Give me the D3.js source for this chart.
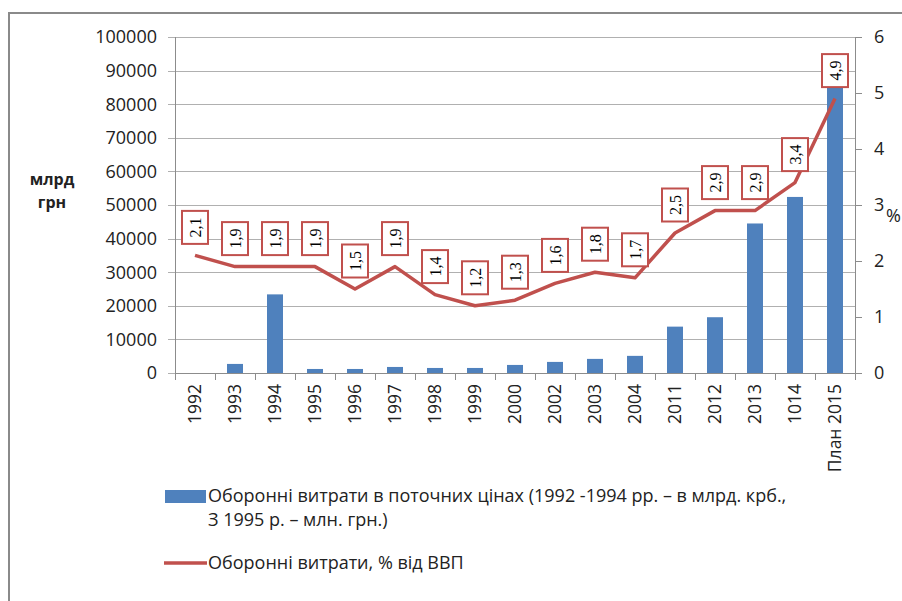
<!DOCTYPE html>
<html>
<head>
<meta charset="utf-8">
<script src="https://cdn.jsdelivr.net/npm/d3@7"></script>
<style>
  body { margin: 0; background: #fff; }
  svg { display: block; font-family: "Open Sans", sans-serif; }
</style>
</head>
<body>
<div class="chart"></div>
<script>
// chart data
var categories = ["1992", "1993", "1994", "1995", "1996", "1997", "1998", "1999", "2000",
  "2002", "2003", "2004", "2011", "2012", "2013", "1014", "План 2015"];
var spending = [0, 2700, 23400, 1200, 1200, 1800, 1500, 1500, 2400,
  3300, 4200, 5100, 13800, 16600, 44500, 52400, 85600];
var gdpShare = [2.1, 1.9, 1.9, 1.9, 1.5, 1.9, 1.4, 1.2, 1.3,
  1.6, 1.8, 1.7, 2.5, 2.9, 2.9, 3.4, 4.9];
var leftTicks = [0, 10000, 20000, 30000, 40000, 50000, 60000, 70000, 80000, 90000, 100000];
var rightTicks = [0, 1, 2, 3, 4, 5, 6];
var legendLabels = [
  ["Оборонні витрати в поточних цінах (1992 -1994 рр. – в млрд. крб.,", "З 1995 р. – млн. грн.)"],
  ["Оборонні витрати, % від ВВП"]
];

var store = {
  width: 902, height: 601,
  plot: { left: 175, right: 855, top: 37, bottom: 373 },
  blue: "#4f81bd",
  red: "#c0504d",
  grid: "#b0b0b0",
  axis: "#8c8c8c"
};

var svg = d3.select(".chart").append("svg")
  .attr("width", store.width)
  .attr("height", store.height);

// outer frame (top and left edges only are visible)
svg.append("path")
  .attr("d", "M9," + store.height + "V13H" + store.width)
  .attr("fill", "none")
  .attr("stroke", "#8a8a8a")
  .attr("stroke-width", 2);

var x = d3.scaleBand()
  .domain(categories)
  .range([store.plot.left, store.plot.right])
  .paddingInner(0.6)
  .paddingOuter(0.3);
var y = d3.scaleLinear().domain([0, 100000]).range([store.plot.bottom, store.plot.top]);
var y2 = d3.scaleLinear().domain([0, 6]).range([store.plot.bottom, store.plot.top]);

var step = x.step();
var bw = x.bandwidth();
var boundary = function(c) { return x(c) - step * x.paddingInner() / 2; };

// gridlines + left ticks
svg.append("g").selectAll("line")
  .data(leftTicks)
  .join("line")
  .attr("x1", store.plot.left - 7)
  .attr("x2", store.plot.right)
  .attr("y1", function(d) { return Math.round(y(d)) + 0.5; })
  .attr("y2", function(d) { return Math.round(y(d)) + 0.5; })
  .attr("stroke", store.grid);

svg.append("g").selectAll("text")
  .data(leftTicks)
  .join("text")
  .attr("x", 157)
  .attr("y", function(d) { return y(d); })
  .attr("dy", "0.36em")
  .attr("text-anchor", "end")
  .attr("font-size", 18)
  .attr("fill", "#222")
  .text(function(d) { return d; });

// left axis line
svg.append("line")
  .attr("x1", store.plot.left + 0.5).attr("x2", store.plot.left + 0.5)
  .attr("y1", store.plot.top).attr("y2", store.plot.bottom + 7)
  .attr("stroke", store.axis);

// right axis
svg.append("line")
  .attr("x1", store.plot.right + 0.5).attr("x2", store.plot.right + 0.5)
  .attr("y1", store.plot.top).attr("y2", store.plot.bottom + 7)
  .attr("stroke", store.axis);

svg.append("g").selectAll("line")
  .data(rightTicks)
  .join("line")
  .attr("x1", store.plot.right)
  .attr("x2", store.plot.right + 7)
  .attr("y1", function(d) { return Math.round(y2(d)) + 0.5; })
  .attr("y2", function(d) { return Math.round(y2(d)) + 0.5; })
  .attr("stroke", store.axis);

svg.append("g").selectAll("text")
  .data(rightTicks)
  .join("text")
  .attr("x", 874)
  .attr("y", function(d) { return y2(d); })
  .attr("dy", "0.36em")
  .attr("font-size", 18)
  .attr("fill", "#222")
  .text(function(d) { return d; });

// bottom tick marks between categories
var edges = categories.map(boundary).concat([store.plot.right]);
svg.append("g").selectAll("line")
  .data(edges)
  .join("line")
  .attr("x1", function(d) { return Math.round(d) + 0.5; })
  .attr("x2", function(d) { return Math.round(d) + 0.5; })
  .attr("y1", store.plot.bottom)
  .attr("y2", store.plot.bottom + 7)
  .attr("stroke", store.axis);

// bars
svg.append("g").selectAll("rect")
  .data(categories)
  .join("rect")
  .attr("x", function(c) { return x(c); })
  .attr("width", bw)
  .attr("y", function(c, i) { return y(spending[i]); })
  .attr("height", function(c, i) { return y(0) - y(spending[i]); })
  .attr("fill", store.blue);

// baseline over the bars
svg.append("line")
  .attr("x1", store.plot.left).attr("x2", store.plot.right)
  .attr("y1", store.plot.bottom + 0.5).attr("y2", store.plot.bottom + 0.5)
  .attr("stroke", store.axis);

// category labels
svg.append("g").selectAll("text")
  .data(categories)
  .join("text")
  .attr("transform", function(c) { return "translate(" + (x(c) + bw / 2) + ",384) rotate(-90)"; })
  .attr("dy", "0.36em")
  .attr("text-anchor", "end")
  .attr("font-size", 17.5)
  .attr("fill", "#222")
  .text(function(c) { return c; });

// % line
var line = d3.line()
  .x(function(d, i) { return x(categories[i]) + bw / 2; })
  .y(function(d) { return y2(d); });

svg.append("path")
  .datum(gdpShare)
  .attr("d", line)
  .attr("fill", "none")
  .attr("stroke", store.red)
  .attr("stroke-width", 3.5)
  .attr("stroke-linejoin", "round");

// boxed value labels
var fmt = function(v) { return d3.format(".1f")(v).replace(".", ","); };
var labels = svg.append("g").selectAll("g")
  .data(gdpShare)
  .join("g")
  .attr("transform", function(d, i) {
    return "translate(" + (x(categories[i]) + bw / 2) + "," + (y2(d) - 28) + ")";
  });
labels.append("rect")
  .attr("x", -13).attr("y", -16.5)
  .attr("width", 26).attr("height", 33)
  .attr("fill", "#fff")
  .attr("stroke", store.red)
  .attr("stroke-width", 2);
labels.append("text")
  .attr("transform", "rotate(-90)")
  .attr("dy", "0.35em")
  .attr("text-anchor", "middle")
  .attr("font-family", "'Liberation Serif', serif")
  .attr("font-size", 16)
  .attr("fill", "#000")
  .text(function(d) { return fmt(d); });

// axis titles
svg.append("text")
  .attr("x", 52).attr("y", 185)
  .attr("text-anchor", "middle")
  .attr("font-size", 16).attr("font-weight", "bold")
  .attr("fill", "#222")
  .text("млрд");
svg.append("text")
  .attr("x", 52).attr("y", 208)
  .attr("text-anchor", "middle")
  .attr("font-size", 16).attr("font-weight", "bold")
  .attr("fill", "#222")
  .text("грн");
svg.append("text")
  .attr("x", 886).attr("y", 222)
  .attr("font-size", 18)
  .attr("fill", "#222")
  .text("%");

// legend
var legend = svg.append("g").attr("font-size", 18).attr("fill", "#222");
legend.append("rect")
  .attr("x", 165).attr("y", 490)
  .attr("width", 41).attr("height", 13)
  .attr("fill", store.blue);
legend.append("text")
  .attr("x", 208).attr("y", 502)
  .selectAll("tspan")
  .data(legendLabels[0])
  .join("tspan")
  .attr("x", 208)
  .attr("dy", function(d, i) { return i ? 24 : 0; })
  .text(function(d) { return d; });
legend.append("line")
  .attr("x1", 164).attr("x2", 207)
  .attr("y1", 563).attr("y2", 563)
  .attr("stroke", store.red)
  .attr("stroke-width", 3.5);
legend.append("text")
  .attr("x", 208).attr("y", 569)
  .text(legendLabels[1][0]);
</script>
</body>
</html>
